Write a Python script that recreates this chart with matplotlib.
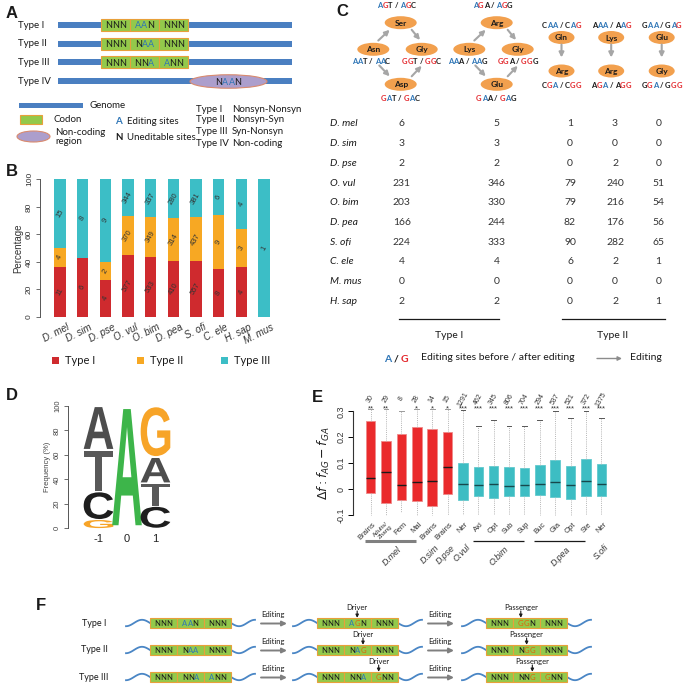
import numpy as np
import matplotlib
matplotlib.use('Agg')
import matplotlib.pyplot as plt
from matplotlib.patches import Rectangle, Ellipse, PathPatch
from matplotlib.font_manager import FontProperties, findfont, get_font
from matplotlib.textpath import TextPath
from matplotlib.transforms import Affine2D, blended_transform_factory

# ------------------------------------------------------------------ data
# Panel B : counts of editing-site types per species
b_species = ['D. mel', 'D. sim', 'D. pse', 'O. vul', 'O. bim', 'D. pea', 'S. ofi', 'C. ele', 'H. sap', 'M. mus']
b_type1 = [11, 6, 4, 577, 533, 410, 557, 8, 4, 0]
b_type2 = [4, 0, 2, 370, 349, 314, 437, 9, 3, 0]
b_type3 = [15, 8, 9, 344, 337, 280, 381, 6, 4, 1]
b_legend = ['Type I', 'Type II', 'Type III']

# Panel C : table
c_species = ['D. mel', 'D. sim', 'D. pse', 'O. vul', 'O. bim', 'D. pea', 'S. ofi', 'C. ele', 'M. mus', 'H. sap']
c_t1_a = [6, 3, 2, 231, 203, 166, 224, 4, 0, 2]
c_t1_b = [5, 3, 2, 346, 330, 244, 333, 4, 0, 2]
c_t2_a = [1, 0, 0, 79, 79, 82, 90, 6, 0, 0]
c_t2_b = [3, 0, 2, 240, 216, 176, 282, 2, 0, 2]
c_t2_c = [0, 0, 0, 51, 54, 56, 65, 1, 0, 1]

# Panel D : sequence logo (frequency %, stacked bottom -> top)
d_positions = [-1, 0, 1]
d_letters = [['G', 'C', 'T', 'A'], ['A'], ['C', 'T', 'A', 'G']]
d_freqs = [[7, 23, 34, 36], [100], [18, 19, 21, 42]]

# Panel E : box plot statistics
e_labels = ['Brains', 'Adults/\nZhang', 'Fem', 'Mal', 'Brains', 'Brains', 'Ner', 'Axi', 'Opt', 'Sub',
            'Sup', 'Buc', 'Gia', 'Opt', 'Ste', 'Ner']
e_counts = [30, 29, 8, 28, 14, 15, 1291, 462, 345, 806, 704, 294, 537, 521, 372, 1375]
e_signif = ['**', '**', '', '*', '*', '*', '***', '***', '***', '***', '***', '***', '***', '***', '***', '***']
e_q1 = [-0.014, -0.053, -0.043, -0.045, -0.065, -0.019, -0.043, -0.026, -0.034, -0.026, -0.026, -0.021, -0.031, -0.039, -0.027, -0.026]
e_med = [0.042, 0.065, 0.016, 0.026, 0.030, 0.084, 0.018, 0.016, 0.018, 0.013, 0.017, 0.021, 0.026, 0.016, 0.030, 0.021]
e_q3 = [0.262, 0.184, 0.212, 0.240, 0.231, 0.219, 0.099, 0.084, 0.088, 0.084, 0.082, 0.094, 0.112, 0.088, 0.116, 0.096]
e_whislo = [-0.10, -0.10, -0.088, -0.10, -0.10, -0.10, -0.10, -0.10, -0.10, -0.10, -0.10, -0.10, -0.10, -0.10, -0.10, -0.10]
e_whishi = [0.31, 0.31, 0.30, 0.31, 0.31, 0.31, 0.304, 0.242, 0.267, 0.245, 0.243, 0.265, 0.30, 0.273, 0.30, 0.275]
e_kind = ['fly'] * 6 + ['cephalopod'] * 10
e_groups = ['D.mel', 'D.sim', 'D.pse', 'O.vul', 'O.bim', 'D.pea', 'S.ofi']
e_group_first = [1, 5, 6, 7, 8, 12, 16]
e_group_last = [4, 5, 6, 7, 11, 15, 16]

# Panel F
f_rows = ['Type I', 'Type II', 'Type III']
f_before = [['NNN', 'AAN', 'NNN'], ['NNN', 'NAA', 'NNN'], ['NNN', 'NNA', 'ANN']]
f_before_c = [['kkk', 'bbk', 'kkk'], ['kkk', 'kbb', 'kkk'], ['kkk', 'kkb', 'bkk']]
f_driver = [['NNN', 'AGN', 'NNN'], ['NNN', 'NAG', 'NNN'], ['NNN', 'NNA', 'GNN']]
f_driver_c = [['kkk', 'bok', 'kkk'], ['kkk', 'kbo', 'kkk'], ['kkk', 'kkb', 'okk']]
f_pass = [['NNN', 'GGN', 'NNN'], ['NNN', 'NGG', 'NNN'], ['NNN', 'NNG', 'GNN']]
f_pass_c = [['kkk', 'ook', 'kkk'], ['kkk', 'koo', 'kkk'], ['kkk', 'kko', 'okk']]
f_driver_site = [(1, 1), (1, 2), (2, 0)]
f_pass_site = [(1, 0), (1, 1), (1, 2)]

# ------------------------------------------------------------------ style
W, H, DPI = 683, 695, 100
RED_B, ORA_B, CYA_B = '#CF2A2E', '#F7A823', '#3CBEC6'
RED_E, CYA_E = '#EA2A2C', '#3DBDC3'
GREEN, CBORD = '#93C94B', '#E8A03A'
BLUE_G = '#4A7FC1'
ELL = '#F2A04E'
CB, CR, CK = '#2E75B6', '#E3262B', '#1A1A1A'
FO = '#E2620A'
SANS = 'Liberation Sans'
CAL = 'Lato'

fig = plt.figure(figsize=(W / DPI, H / DPI), dpi=DPI)
ov = fig.add_axes([0, 0, 1, 1])
ov.set_xlim(0, W)
ov.set_ylim(H, 0)
ov.axis('off')


def pax(x0, y0, x1, y1):
    a = fig.add_axes([x0 / W, 1 - y1 / H, (x1 - x0) / W, (y1 - y0) / H])
    a.patch.set_alpha(0)
    return a


def adv(s, fp):
    f = get_font(findfont(fp))
    f.set_size(fp.get_size_in_points(), 72)
    t = 0.0
    for ch in s:
        g = f.load_char(ord(ch))
        t += g.linearHoriAdvance / 65536.0
    return t * DPI / 72.0


CMAP = {'b': CB, 'r': CR, 'k': CK, 'o': FO}


def rich(x, y, segs, size, weight='normal', style='normal', family=CAL, ha='center', va='center_baseline'):
    """Multi-coloured text: each character is centred in its own advance cell."""
    fp = FontProperties(family=family, size=size, weight=weight, style=style)
    chars = [(ch, c) for s, c in segs for ch in s]
    cw = np.array([adv(ch, fp) for ch, c in chars])
    tot = cw.sum()
    x0 = {'center': x - tot / 2, 'left': x, 'right': x - tot}[ha]
    centers = x0 + np.cumsum(cw) - cw / 2
    for (ch, c), cx in zip(chars, centers):
        if ch != ' ':
            ov.text(cx, y, ch, color=c, fontproperties=fp, ha='center', va=va)
    return list(centers)


def ptxt(x, y, s, size=7, color=CK, ha='left', va='center', weight='normal', style='normal', family=CAL, **kw):
    return ov.text(x, y, s, fontsize=size, color=color, ha=ha, va=va, fontweight=weight,
                   fontstyle=style, family=family, **kw)


def label(x, y, s):
    ptxt(x, y, s, size=12, weight='bold', family=SANS, va='center')


def arrow(x0, y0, x1, y1, color='#A6A6A6', lw=1.5, ms=7):
    ov.annotate('', xy=(x1, y1), xytext=(x0, y0),
                arrowprops=dict(arrowstyle='-|>', color=color, lw=lw, mutation_scale=ms,
                                shrinkA=0, shrinkB=0))


def codon_row(x, y, w3, h, texts, cols, size):
    centers = []
    for i in range(3):
        ov.add_patch(Rectangle((x + i * w3, y - h / 2), w3, h, fc=GREEN, ec=CBORD, lw=0.8, zorder=2))
        cx = x + i * w3 + w3 / 2
        segs = [(ch, CMAP[c]) for ch, c in zip(texts[i], cols[i])]
        centers.append(rich(cx, y, segs, size))
    return centers

# ------------------------------------------------------------------ Panel A
label(6, 13, 'A')
rowsA = [('Type I', 25, ['NNN', 'AAN', 'NNN'], ['kkk', 'bbk', 'kkk']),
         ('Type II', 43.5, ['NNN', 'NAA', 'NNN'], ['kkk', 'kbb', 'kkk']),
         ('Type III', 62.3, ['NNN', 'NNA', 'ANN'], ['kkk', 'kkb', 'bkk'])]
for name, y, tx, cl in rowsA:
    ptxt(18, y, name, size=7)
    ov.add_patch(Rectangle((58, y - 3), 234, 6, fc=BLUE_G, ec='none', zorder=1))
    codon_row(101, y, 29, 12, tx, cl, 6.5)
ptxt(18, 81, 'Type IV', size=7)
ov.add_patch(Rectangle((58, 78), 234, 6, fc=BLUE_G, ec='none', zorder=1))
ov.add_patch(Ellipse((228.5, 81.5), 77, 13.5, fc='#AC9ECC', ec='#D98A6E', lw=0.8, zorder=2))
rich(228.5, 81.5, [('N', CK), ('AA', CB), ('N', CK)], 6.5)

ov.add_patch(Rectangle((19, 102.5), 64, 5, fc=BLUE_G, ec='none'))
ptxt(90, 105.5, 'Genome', size=7)
ov.add_patch(Rectangle((20, 115), 22, 9, fc=GREEN, ec=CBORD, lw=0.8))
ptxt(53, 120, 'Codon', size=7)
ov.add_patch(Ellipse((33.5, 136.5), 33, 11, fc='#AC9ECC', ec='#D98A6E', lw=0.8))
ptxt(55, 132.5, 'Non-coding', size=7)
ptxt(55, 141.5, 'region', size=7)
ptxt(115, 121.5, 'A', size=7, weight='bold', color=CB)
ptxt(127, 121.5, 'Editing sites', size=7)
ptxt(115, 137.5, 'N', size=7, weight='bold')
ptxt(127, 137.5, 'Uneditable sites', size=7)
for nm, desc, y in [('Type I', 'Nonsyn-Nonsyn', 109), ('Type II', 'Nonsyn-Syn', 120),
                    ('Type III', 'Syn-Nonsyn', 131), ('Type IV', 'Non-coding', 143)]:
    ptxt(196, y, nm, size=7)
    ptxt(232, y, desc, size=7)

# ------------------------------------------------------------------ Panel B
label(6, 172, 'B')
ax_b = pax(40, 179.3, 278, 317)
xb = np.arange(len(b_species))
t1 = np.array(b_type1, float)
t2 = np.array(b_type2, float)
t3 = np.array(b_type3, float)
tot = t1 + t2 + t3
p1, p2, p3 = 100 * t1 / tot, 100 * t2 / tot, 100 * t3 / tot
ax_b.bar(xb, p1, width=0.51, color=RED_B)
ax_b.bar(xb, p2, width=0.51, bottom=p1, color=ORA_B)
ax_b.bar(xb, p3, width=0.51, bottom=p1 + p2, color=CYA_B)
for i in range(len(xb)):
    for cnt, bot, hgt in [(b_type1[i], 0, p1[i]), (b_type2[i], p1[i], p2[i]), (b_type3[i], p1[i] + p2[i], p3[i])]:
        if cnt > 0:
            ax_b.text(xb[i], bot + hgt / 2, str(cnt), rotation=60, ha='center', va='center',
                      fontsize=5.5, color='#333333', family=SANS)
ax_b.set_xlim(-0.882, 9.617)
ax_b.set_ylim(0, 100)
for s in ['top', 'right', 'bottom']:
    ax_b.spines[s].set_visible(False)
ax_b.spines['left'].set_color('#555555')
ax_b.spines['left'].set_linewidth(0.7)
ax_b.set_yticks([0, 20, 40, 60, 80, 100])
ax_b.set_yticklabels(['0', '20', '40', '60', '80', '100'], rotation=90, va='center', fontsize=6,
                     family=SANS, color='#333333')
ax_b.tick_params(axis='y', length=3, width=0.6, color='#555555', pad=2)
ax_b.set_xticks([])
ax_b.set_ylabel('Percentage', fontsize=7, family=SANS, color='#333333', labelpad=2)
tb = blended_transform_factory(ax_b.transData, ov.transData)
for i, sp in enumerate(b_species):
    ax_b.text(xb[i] + 0.5, 322, sp, transform=tb, rotation=27, ha='right', va='top',
              fontsize=7, style='italic', family=SANS, color='#333333', rotation_mode='default')
for col, name, xs in [(RED_B, b_legend[0], 52), (ORA_B, b_legend[1], 137), (CYA_B, b_legend[2], 221)]:
    ov.add_patch(Rectangle((xs, 356.5), 6.5, 7.5, fc=col, ec='none'))
    ptxt(xs + 13, 360, name, size=8)

# ------------------------------------------------------------------ Panel C
label(336, 12, 'C')


def pair(x, y, a, ca, b, cb, size=5.5):
    segs = [(ch, CMAP[c]) for ch, c in zip(a, ca)] + [(' / ', CK)] + [(ch, CMAP[c]) for ch, c in zip(b, cb)]
    rich(x, y, segs, size, weight='bold')


def aa(x, y, name, w=32, h=13):
    ov.add_patch(Ellipse((x, y), w, h, fc=ELL, ec='none', zorder=2))
    ptxt(x, y, name, size=6, ha='center', va='center_baseline', weight='bold', zorder=3)


for dx, top, left, right, bot, codons in [
        (0, 'Ser', 'Asn', 'Gly', 'Asp', [('AGT', 'brk', 'AGC', 'brk'), ('AAT', 'bbk', 'AAC', 'bbk'),
                                          ('GGT', 'rrk', 'GGC', 'rrk'), ('GAT', 'rbk', 'GAC', 'rbk')]),
        (96, 'Arg', 'Lys', 'Gly', 'Glu', [('AGA', 'brk', 'AGG', 'brk'), ('AAA', 'bbk', 'AAG', 'bbk'),
                                           ('GGA', 'rrk', 'GGG', 'rrk'), ('GAA', 'rbk', 'GAG', 'rbk')])]:
    cx = 400.7 + dx
    aa(cx, 22.7, top)
    aa(cx - 27.4, 49.3, left)
    aa(cx + 21, 49.3, right)
    aa(cx, 84.3, bot)
    pair(cx - 4, 5, *codons[0])
    pair(cx - 29.5, 61, *codons[1])
    pair(cx + 21, 61, *codons[2])
    pair(cx - 0.7, 98.3, *codons[3])
    arrow(cx - 22.4, 40.5, cx - 11, 29.8)
    arrow(cx + 11, 29.8, cx + 19.3, 40)
    arrow(cx - 21.4, 65.5, cx - 11, 76.3)
    arrow(cx + 11, 76.3, cx + 21, 65.8)

for x, a1, a2, c_top, c_bot in [
        (561.5, 'Gln', 'Arg', ('CAA', 'kbb', 'CAG', 'kbr'), ('CGA', 'krb', 'CGG', 'krr')),
        (611.2, 'Lys', 'Arg', ('AAA', 'kbb', 'AAG', 'kbr'), ('AGA', 'krb', 'AGG', 'krr')),
        (661.7, 'Glu', 'Gly', ('GAA', 'kbb', 'GAG', 'kbr'), ('GGA', 'krb', 'GGG', 'krr'))]:
    pair(x, 25, *c_top)
    aa(x, 37.5, a1, w=26)
    arrow(x, 44.5, x, 57.5)
    aa(x, 71, a2, w=26)
    pair(x, 85, *c_bot)

row_y = 124 + 19.7 * np.arange(len(c_species))
for i, sp in enumerate(c_species):
    y = row_y[i]
    ptxt(330, y, sp, size=7.5, style='italic')
    for x, col in [(401.7, c_t1_a), (496.7, c_t1_b), (570, c_t2_a), (615, c_t2_b), (658.3, c_t2_c)]:
        ptxt(x, y, str(col[i]), size=7.5, ha='center', color='#333333')
ov.plot([399, 499], [318.5, 318.5], color=CK, lw=0.9)
ov.plot([561.5, 665], [318.5, 318.5], color=CK, lw=0.9)
ptxt(449, 336, 'Type I', size=7.5, ha='center')
ptxt(613, 336, 'Type II', size=7.5, ha='center')
rich(396, 358, [('A', CB), (' / ', CK), ('G', CR)], 7.5, weight='bold')
ptxt(421, 358, 'Editing sites before / after editing', size=7.5)
arrow(597, 358.5, 622, 358.5, color='#8C8C8C', lw=1.0, ms=6)
ptxt(630, 358, 'Editing', size=7.5)

# ------------------------------------------------------------------ Panel D
label(6, 395, 'D')
ax_d = pax(68, 406, 176, 528.3)
ax_d.set_xlim(-2.07, 1.72)
ax_d.set_ylim(0, 100)
LCOL = {('A', 0): '#3DB54A', 'A': '#4D4D4D', 'T': '#595959', 'C': '#1E1E1E', 'G': '#F7A428'}
fpL = FontProperties(family=SANS, weight='bold')
for pos, letters, freqs in zip(d_positions, d_letters, d_freqs):
    bottom = 0.0
    for ch, fr in zip(letters, freqs):
        tp = TextPath((0, 0), ch, size=1, prop=fpL)
        bb = tp.get_extents()
        wdt = 1.04
        hgt = fr * 0.95
        tr = Affine2D().translate(-bb.x0, -bb.y0).scale(wdt / bb.width, hgt / bb.height) \
            .translate(pos - wdt / 2, bottom + fr * 0.025)
        col = LCOL.get((ch, pos), LCOL[ch])
        ax_d.add_patch(PathPatch(tr.transform_path(tp), fc=col, ec='none', clip_on=False))
        bottom += fr
for s in ['top', 'right', 'bottom']:
    ax_d.spines[s].set_visible(False)
ax_d.spines['left'].set_color('#555555')
ax_d.spines['left'].set_linewidth(0.7)
ax_d.set_yticks([0, 20, 40, 60, 80, 100])
ax_d.set_yticklabels(['0', '20', '40', '60', '80', '100'], rotation=90, va='center', fontsize=5.5,
                     family=SANS, color='#444444')
ax_d.tick_params(axis='y', length=3, width=0.6, color='#555555', pad=2)
ax_d.set_xticks(d_positions)
ax_d.set_xticklabels([str(p) for p in d_positions], fontsize=8, family=SANS, color='#222222')
ax_d.tick_params(axis='x', length=0, pad=4)
ax_d.set_ylabel('Frequency (%)', fontsize=5.5, family=SANS, color='#444444', labelpad=2)

# ------------------------------------------------------------------ Panel E
label(312, 397, 'E')
ax_e = pax(353, 407, 619, 519)
stats = [dict(med=m, q1=a, q3=b, whislo=lo, whishi=hi, fliers=[])
         for m, a, b, lo, hi in zip(e_med, e_q1, e_q3, e_whislo, e_whishi)]
pos_e = np.arange(1, len(stats) + 1)
bp = ax_e.bxp(stats, positions=pos_e, widths=0.62, patch_artist=True, showfliers=False, manage_ticks=False)
for i, box in enumerate(bp['boxes']):
    fc = RED_E if e_kind[i] == 'fly' else CYA_E
    box.set_facecolor(fc)
    box.set_edgecolor('#F08A8A' if e_kind[i] == 'fly' else '#62C9CE')
    box.set_linewidth(0.6)
    bp['medians'][i].set_color('#1A1A1A' if e_kind[i] == 'fly' else '#17484C')
    bp['medians'][i].set_linewidth(1.0)
for w in bp['whiskers']:
    w.set_linestyle((0, (1, 1.2)))
    w.set_color('#B5B5B5')
    w.set_linewidth(0.7)
for j, c in enumerate(bp['caps']):
    i = j // 2
    if j % 2 == 0:
        c.set_visible(False)
    else:
        c.set_color('#9A9A9A' if e_kind[i] == 'fly' else '#555555')
        c.set_linewidth(0.7)
ax_e.set_xlim(-0.14, 17.14)
ax_e.set_ylim(-0.1154, 0.3166)
for s in ['top', 'right', 'bottom']:
    ax_e.spines[s].set_visible(False)
ax_e.spines['left'].set_bounds(-0.1, 0.3)
ax_e.spines['left'].set_color('#333333')
ax_e.spines['left'].set_linewidth(0.8)
ax_e.set_yticks([-0.1, 0, 0.1, 0.2, 0.3])
ax_e.set_yticklabels(['-0.1', '0', '0.1', '0.2', '0.3'], rotation=90, va='center', fontsize=6.5,
                     family=SANS, color='#333333')
ax_e.tick_params(axis='y', length=3.5, width=0.7, pad=2)
ax_e.set_xticks([])
ax_e.set_ylabel(r'$\Delta f: f_{AG} - f_{GA}$', fontsize=9, color='#222222', labelpad=3)
te = blended_transform_factory(ax_e.transData, ov.transData)
for i, p in enumerate(pos_e):
    ax_e.text(p, 399, str(e_counts[i]), transform=te, rotation=60, ha='center', va='center',
              fontsize=5, family=SANS, color='#333333')
    if e_signif[i]:
        ax_e.text(p, 408.5, e_signif[i], transform=te, ha='center', va='center', fontsize=5.5,
                  family=SANS, color='#333333')
    lab = e_labels[i]
    ax_e.text(p + 0.45, 521, lab, transform=te, rotation=45, ha='right', va='top',
              fontsize=5.5 if '\n' not in lab else 4.5, family=SANS, color='#333333',
              linespacing=0.9)
for g, a, b in zip(e_groups, e_group_first, e_group_last):
    if b > a:
        gray = g == 'D.mel'
        ax_e.plot([a - 0.35, b - 0.05], [541, 541], transform=te, clip_on=False,
                  color='#808080' if gray else CK, lw=2.2 if gray else 0.9,
                  solid_capstyle='butt')
        xc = (a + b) / 2 + 0.6
        yy = 545
    else:
        xc = a + 0.6
        yy = 543
    ax_e.text(xc, yy, g, transform=te, rotation=45, ha='right', va='top', fontsize=6.3,
              style='italic', family=SANS, color='#333333')

# ------------------------------------------------------------------ Panel F
label(36, 605, 'F')
f_y = [623, 650, 677]
box_x = [150, 317, 486]
for r in range(3):
    y = f_y[r]
    ptxt(94, y, f_rows[r], size=6.5, ha='center')
    for k, (texts, cols) in enumerate([(f_before[r], f_before_c[r]), (f_driver[r], f_driver_c[r]),
                                        (f_pass[r], f_pass_c[r])]):
        bx = box_x[k]
        t = np.linspace(0, 1, 40)
        ov.plot(bx - 24 + 24 * t, y - 3.2 * np.sin(np.pi * (1.5 * t - 0.5)), color='#4A86C5', lw=1.3)
        ov.plot(bx + 81 + 24 * t, y + 3.2 * np.sin(np.pi * 1.5 * t), color='#4A86C5', lw=1.3)
        centers = codon_row(bx, y, 27, 10.5, texts, cols, 5.5)
        if k in (1, 2):
            ci, li = (f_driver_site if k == 1 else f_pass_site)[r]
            xx = centers[ci][li]
            ptxt(xx, y - 15.5, 'Driver' if k == 1 else 'Passenger', size=5.5, ha='center')
            arrow(xx, y - 12, xx, y - 5.2, color=CK, lw=0.8, ms=4.5)
    for ax0 in [261, 428]:
        arrow(ax0, y + 0.5, ax0 + 26, y + 0.5, color='#7F7F7F', lw=1.4, ms=7)
        ptxt(ax0 + 12, y - 8.5, 'Editing', size=5.5, ha='center')

fig.savefig('out.png', dpi=DPI)
